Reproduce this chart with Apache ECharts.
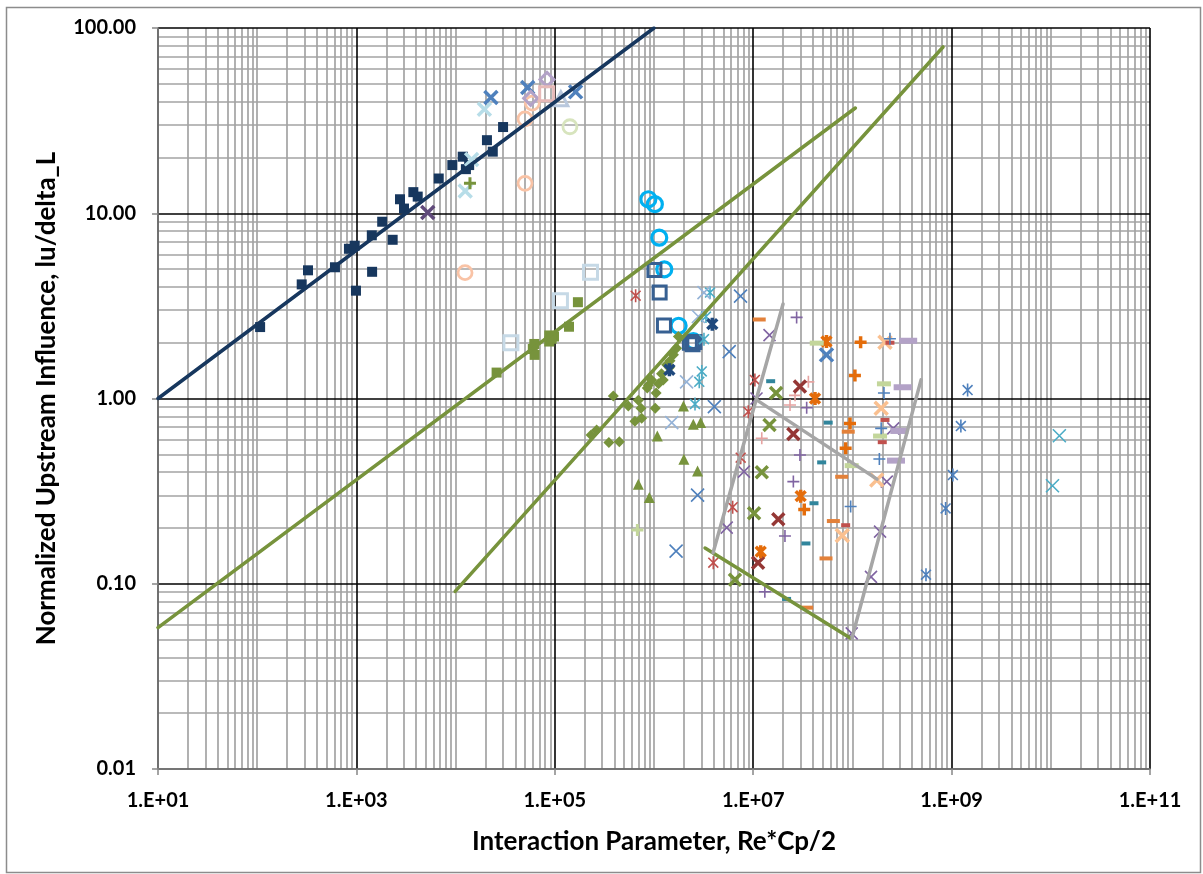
<!DOCTYPE html>
<html>
<head>
<meta charset="utf-8">
<script src="https://cdn.jsdelivr.net/npm/echarts@6/dist/echarts.min.js"></script>
<style>
  html, body { margin: 0; padding: 0; background: #ffffff; }
  #chart { width: 1203px; height: 874px; }
</style>
</head>
<body>
<div id="chart"></div>
<script>
// ---- Axis setup ----
const xMin = 1e1, xMax = 1e11;
const yMin = 0.01, yMax = 100;
const xTitle = 'Interaction Parameter, Re*Cp/2';
const yTitle = 'Normalized Upstream Influence, lu/delta_L';

// ---- Measured points: [Re*Cp/2, lu/delta_L] ----
const navySquares = [[107,2.43],[281,4.13],[325,4.92],[608,5.11],[841,6.43],[961,6.68],[990,3.82],[1430,7.6],[1440,4.83],[1820,9.0],[2320,7.19],[2750,11.9],[3020,10.6],[3750,13.0],[4150,12.3],[6760,15.4],[9270,18.2],[11800,20.2],[12700,17.3],[13700,18.2],[20700,24.8],[23700,21.5],[30100,29.2]];
const paleTealX = [[19500,36.4],[12500,13.2],[14500,19.5]];
const greyBlueTriangle = [[115000,41.5]];
const blueThickX = [[22700,42.1],[53300,47.7],[162000,45.2],[5.48e7,1.72]];
const plumThickX = [[5240,10.1]];
const oliveThickPlus = [[13960,14.5]];
const peachCircles = [[12450,4.78],[50100,14.5],[50100,32.3],[59300,39.3]];
const lilacDiamonds = [[83400,52.8],[57100,41.7]];
const roseSquare = [[82800,44.1]];
const sageCircle = [[142000,29.3]];
const cyanCircles = [[877000,11.9],[1.02e6,11.2],[1.13e6,7.38],[1.27e6,4.98],[1.77e6,2.47],[2.49e6,2.04]];
const blueOpenSquares = [[1.01e6,4.94],[1.14e6,3.74],[1.26e6,2.48],[2.3e6,2.0],[2.45e6,1.96],[2.55e6,2.02]];
const paleBlueSquares = [[229000,4.80],[114000,3.37],[36100,2.0]];
const oliveSquares = [[25900,1.38],[62100,1.97],[62600,1.72],[87900,2.19],[98100,2.16],[87900,2.03],[139000,2.44],[171000,3.31],[60000,1.85],[93000,2.1]];
const oliveDiamonds = [[232000,0.635],[264000,0.676],[351000,0.579],[447000,0.585],[389000,1.03],[551000,0.91],[695000,0.98],[740000,0.885],[642000,0.753],[751000,0.782],[1.03e6,0.885],[1.05e6,1.07],[877000,1.18],[946000,1.26],[1.11e6,1.2],[1.24e6,1.26],[1.19e6,1.36],[1.43e6,1.47],[1.45e6,1.6],[1.57e6,1.72],[1.69e6,1.87],[1.76e6,2.16],[1.34e6,1.52],[855000,1.14]];
const oliveTriangles = [[1.98e6,0.912],[2.49e6,0.726],[2.95e6,0.741],[1.08e6,0.627],[2.0e6,0.47],[2.75e6,0.406],[695000,0.344],[897000,0.292]];
const lightGreenPlus = [[680000,0.195]];
const tealStars = [[3.67e6,3.73],[3.34e6,2.77],[3.19e6,2.09],[3.03e6,1.40],[2.86e6,1.23],[2.59e6,0.933]];
const blueThinX = [[7.45e6,3.57],[5.73e6,1.79],[4.06e6,0.904],[2.75e6,0.301],[1.67e6,0.150]];
const paleBlueThinX = [[3.19e6,3.73],[2.8e6,2.77],[2.13e6,1.23],[1.51e6,0.741]];
const navyThickStars = [[3.87e6,2.52],[1.43e6,1.43]];
const redThinStars = [[653000,3.59],[1.04e7,1.26],[8.93e6,0.849],[7.48e6,0.479],[6.21e6,0.259],[3.96e6,0.130]];
const purpleThinX = [[1.46e7,2.2],[1.08e7,1.0],[8.07e6,0.403],[5.41e6,0.201],[2.22e8,0.356],[1.9e8,0.191],[1.54e8,0.109],[9.84e7,0.054],[2.58e8,0.69]];
const purpleThinPlus = [[2.74e7,2.74],[3.46e7,0.891],[2.96e7,0.495],[2.54e7,0.356],[2.09e7,0.181],[1.31e7,0.0906]];
const pinkThinPlus = [[3.6e7,1.23],[2.64e7,1.04],[2.35e7,0.923],[1.22e7,0.61]];
const maroonThickX = [[2.96e7,1.16],[2.54e7,0.643],[1.79e7,0.223],[1.12e7,0.130]];
const oliveThickX = [[1.7e7,1.07],[1.46e7,0.72],[1.22e7,0.40],[1.02e7,0.24],[6.55e6,0.105]];
const orangeThickStars = [[5.48e7,2.03],[4.2e7,1.0],[3.01e7,0.297],[1.19e7,0.149]];
const orangeThickPlus = [[1.21e8,2.01],[1.06e8,1.33],[9.46e7,0.734],[8.55e7,0.538],[3.27e7,0.252]];
const peachThickX = [[2.13e8,2.01],[1.95e8,0.885],[1.76e8,0.363],[7.91e7,0.182]];
const lilacDashes = [[3.65e8,2.05],[3.21e8,1.15],[2.97e8,0.668],[2.75e8,0.462]];
const lightGreenDashes = [[4.37e7,1.99],[2.08e8,1.2],[1.9e8,0.627],[9.84e7,0.434]];
const tealDashes = [[1.5e7,1.24],[5.7e7,0.741],[4.9e7,0.452],[4.1e7,0.272],[3.4e7,0.165],[2.17e7,0.0828]];
const orangeDashes = [[1.15e7,2.67],[9.08e7,0.662],[7.8e7,0.378],[6.43e7,0.218],[5.42e7,0.137],[3.46e7,0.0743]];
const redDashes = [[2.39e8,2.0],[2.13e8,0.766],[2.0e8,0.581],[8.55e7,0.207]];
const blueThinPlus = [[2.08e8,1.07],[1.95e8,0.69],[1.87e8,0.471],[9.6e7,0.261],[2.39e8,2.1]];
const blueThinStars = [[1.45e9,1.11],[1.24e9,0.71],[1.03e9,0.386],[8.7e8,0.255],[5.52e8,0.112]];
const tealThinX = [[1.22e10,0.629],[1.04e10,0.338]];

// ---- Correlation and boundary lines ----
const navyFit = [[10,1.0],[1e6,100]];
const greenFitLow = [[10,0.058],[1.07e8,37]];
const greenFitSteep = [[9.9e3,0.091],[8.2e8,79]];
const greenFitFloor = [[3.27e6,0.156],[9.5e7,0.051]];
const greyBoundLeft = [[3.94e6,0.147],[2.0e7,3.24]];
const greyBoundMid = [[1.09e7,0.98],[1.77e8,0.367]];
const greyBoundRight = [[9.9e7,0.051],[4.92e8,1.26]];

// ---- Marker shapes ----
const X = 'path://M0,0L10,10M10,0L0,10';
const PLUS = 'path://M5,0L5,10M0,5L10,5';
const STAR = 'path://M1.2,1.2L8.8,8.8M8.8,1.2L1.2,8.8M5,0L5,10M0,5L0,5M10,5L10,5';

function filled(name, data, symbol, size, color) {
  return { name, type: 'scatter', data, symbol, symbolSize: size, z: 10,
    itemStyle: { color, opacity: 1 }, silent: true };
}
function outlined(name, data, symbol, size, color, width) {
  return { name, type: 'scatter', data, symbol, symbolSize: size, z: 10,
    itemStyle: { color: 'rgba(0,0,0,0)', borderColor: color, borderWidth: width, opacity: 1 }, silent: true };
}
function line(name, data, color, width) {
  return { name, type: 'line', data, symbol: 'none', z: 11, silent: true,
    lineStyle: { color, width, cap: 'round' } };
}

// ---- Light grid: every non-labelled decade and the 2..9 subdivisions ----
const lightX = [];
for (let e = 1; e < 11; e++) {
  if (e % 2 === 0) lightX.push(Math.pow(10, e));
  for (let m = 2; m <= 9; m++) lightX.push(m * Math.pow(10, e));
}
const lightY = [];
for (let e = -2; e < 2; e++) {
  for (let m = 2; m <= 9; m++) lightY.push(+(m * Math.pow(10, e)).toPrecision(3));
}

const gridSeries = {
  name: 'grid', type: 'line', data: [], z: 0, silent: true,
  markLine: {
    z: 0, zlevel: 0,
    silent: true, symbol: ['none', 'none'], label: { show: false }, animation: false,
    lineStyle: { color: '#a3a3a3', width: 1.7, type: 'solid' },
    emphasis: { disabled: true },
    data: lightX.map(v => ({ xAxis: v })).concat(lightY.map(v => ({ yAxis: v })))
  }
};

const fontFamily = 'Lato, "Open Sans", sans-serif';

const option = {
  animation: false,
  backgroundColor: '#ffffff',
  grid: { left: 158, top: 28, width: 992, height: 741, containLabel: false },
  xAxis: {
    type: 'log', logBase: 10, min: xMin, max: xMax, interval: 2, z: 1,
    name: xTitle, nameLocation: 'middle', nameGap: 60,
    nameTextStyle: { fontFamily, fontWeight: 'bold', fontSize: 26, color: '#000' },
    axisLine: { show: true, lineStyle: { color: '#868686', width: 1.5 } },
    axisTick: { show: true, length: 6, lineStyle: { color: '#868686', width: 1.5 } },
    axisLabel: { margin: 22, fontFamily, fontWeight: 'bold', fontSize: 20, color: '#000',
      formatter: v => { const e = Math.round(Math.log10(v)); return '1.E+' + (e < 10 ? '0' + e : e); } },
    splitLine: { show: true, lineStyle: { color: '#000', width: 1.6 } },
    minorTick: { show: false }, minorSplitLine: { show: false }
  },
  yAxis: {
    type: 'log', logBase: 10, min: yMin, max: yMax, interval: 1, z: 1,
    name: yTitle, nameLocation: 'middle', nameGap: 98, nameRotate: 90,
    nameTextStyle: { fontFamily, fontWeight: 'bold', fontSize: 26, color: '#000' },
    axisLine: { show: true, lineStyle: { color: '#868686', width: 1.5 } },
    axisTick: { show: true, length: 6, lineStyle: { color: '#868686', width: 1.5 } },
    axisLabel: { margin: 22, fontFamily, fontWeight: 'bold', fontSize: 20, color: '#000',
      formatter: v => v.toFixed(2) },
    splitLine: { show: true, lineStyle: { color: '#000', width: 1.6 } }
  },
  graphic: [{
    type: 'rect', left: 4, top: 5, silent: true, z: -1,
    shape: { width: 1194, height: 865 },
    style: { fill: 'none', stroke: '#8c8c8c', lineWidth: 1.5 }
  }],
  series: [
    gridSeries,
    filled('navy squares', navySquares, 'rect', 10, '#17375e'),
    outlined('pale teal X', paleTealX, X, 13, '#b7dde8', 3.5),
    outlined('grey-blue triangle', greyBlueTriangle, 'triangle', 14, '#b9c8dd', 3),
    outlined('blue thick X', blueThickX, X, 13, '#4f81bd', 3.5),
    outlined('plum thick X', plumThickX, X, 13, '#604a7b', 3.5),
    outlined('olive thick plus', oliveThickPlus, PLUS, 12, '#77933c', 3),
    outlined('peach circles', peachCircles, 'circle', 14, '#f9c3a6', 2.8),
    outlined('lilac diamonds', lilacDiamonds, 'diamond', 14, '#b3a2c7', 3),
    outlined('rose square', roseSquare, 'rect', 14, '#e6b9b8', 3),
    outlined('sage circle', sageCircle, 'circle', 14, '#d7e4bd', 2.8),
    outlined('cyan circles', cyanCircles, 'circle', 15, '#00b0f0', 3.2),
    outlined('blue open squares', blueOpenSquares, 'rect', 13, '#376092', 3),
    outlined('pale blue squares', paleBlueSquares, 'rect', 14, '#c6d9e6', 3),
    filled('olive squares', oliveSquares, 'rect', 10, '#77933c'),
    filled('olive diamonds', oliveDiamonds, 'diamond', 11, '#77933c'),
    filled('olive triangles', oliveTriangles, 'triangle', 11, '#77933c'),
    outlined('light green plus', lightGreenPlus, PLUS, 12, '#c3d69b', 3),
    outlined('teal stars', tealStars, STAR, 13, '#4bacc6', 1.6),
    outlined('blue thin X', blueThinX, X, 13, '#4f81bd', 1.6),
    outlined('pale blue thin X', paleBlueThinX, X, 13, '#95b3d7', 1.6),
    outlined('navy thick stars', navyThickStars, STAR, 13, '#1f497d', 3.5),
    outlined('red thin stars', redThinStars, STAR, 13, '#c0504d', 1.6),
    outlined('purple thin X', purpleThinX, X, 12, '#8064a2', 1.6),
    outlined('purple thin plus', purpleThinPlus, PLUS, 12, '#8064a2', 1.6),
    outlined('pink thin plus', pinkThinPlus, PLUS, 12, '#e6a3a1', 1.6),
    outlined('maroon thick X', maroonThickX, X, 12, '#953735', 3.5),
    outlined('olive thick X', oliveThickX, X, 12, '#77933c', 3.5),
    outlined('orange thick stars', orangeThickStars, STAR, 13, '#e46c0a', 3.5),
    outlined('orange thick plus', orangeThickPlus, PLUS, 12, '#e46c0a', 3.5),
    outlined('peach thick X', peachThickX, X, 13, '#fac090', 3.5),
    filled('lilac dashes', lilacDashes, 'rect', [18, 6], '#b3a2c7'),
    filled('light green dashes', lightGreenDashes, 'rect', [14, 5], '#c3d69b'),
    filled('teal dashes', tealDashes, 'rect', [9, 4], '#31859c'),
    filled('orange dashes', orangeDashes, 'rect', [13, 4], '#e3813a'),
    filled('red dashes', redDashes, 'rect', [9, 4], '#c0504d'),
    outlined('blue thin plus', blueThinPlus, PLUS, 12, '#4f81bd', 1.6),
    outlined('blue thin stars', blueThinStars, STAR, 13, '#4f81bd', 1.6),
    outlined('teal thin X', tealThinX, X, 13, '#4bacc6', 1.6),
    line('navy fit', navyFit, '#17375e', 3.5),
    line('green fit low', greenFitLow, '#77933c', 3.5),
    line('green fit steep', greenFitSteep, '#77933c', 3.5),
    line('green fit floor', greenFitFloor, '#77933c', 3.5),
    line('grey bound left', greyBoundLeft, '#a6a6a6', 3.5),
    line('grey bound mid', greyBoundMid, '#a6a6a6', 3.5),
    line('grey bound right', greyBoundRight, '#a6a6a6', 3.5)
  ]
};

const chart = echarts.init(document.getElementById('chart'), null, { renderer: 'canvas' });
chart.setOption(option);
</script>
</body>
</html>
